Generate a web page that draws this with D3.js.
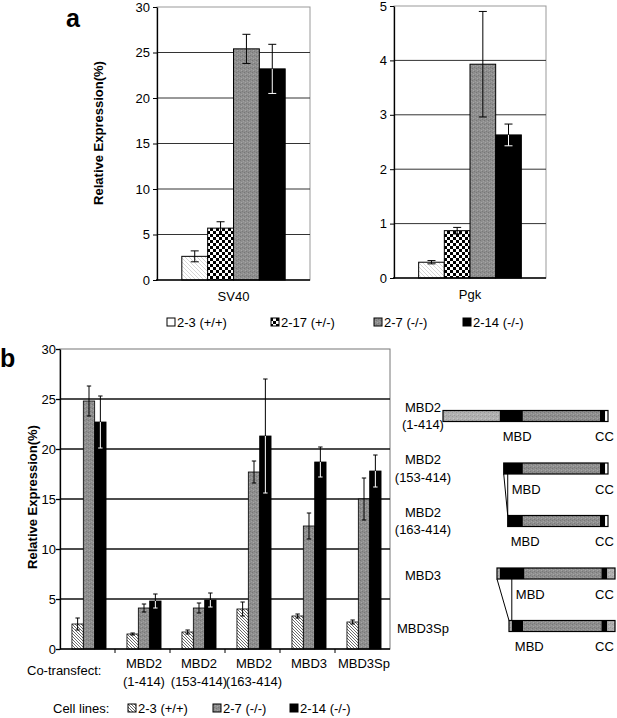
<!DOCTYPE html>
<html><head><meta charset="utf-8">
<script src="https://cdn.jsdelivr.net/npm/d3@7"></script>
<style>body{margin:0;background:#fff} text{font-family:"Liberation Sans",Arial,Helvetica,sans-serif;fill:#000}</style>
</head><body><svg id="c" width="617" height="718"></svg>
<script>
// ---------- DATA ----------
const cellLinesA = ["2-3 (+/+)", "2-17 (+/-)", "2-7 (-/-)", "2-14 (-/-)"];
const sv40Values = [2.6, 5.7, 25.4, 23.2];
const sv40Errors = [0.6, 0.7, 1.6, 2.7];
const pgkValues  = [0.29, 0.87, 3.93, 2.63];
const pgkErrors  = [0.03, 0.06, 0.97, 0.20];
const ticksSV40  = [0, 5, 10, 15, 20, 25, 30];
const ticksPgk   = [0, 1, 2, 3, 4, 5];

const coTransfect = ["", "MBD2|(1-414)", "MBD2|(153-414)", "MBD2|(163-414)", "MBD3", "MBD3Sp"];
const cellLinesB = ["2-3 (+/+)", "2-7 (-/-)", "2-14 (-/-)"];
const val23  = [2.5, 1.5, 1.7, 4.0, 3.3, 2.7];
const err23  = [0.6, 0.1, 0.2, 0.7, 0.2, 0.2];
const val27  = [24.8, 4.1, 4.1, 17.7, 12.3, 15.0];
const err27  = [1.5, 0.4, 0.5, 1.1, 1.3, 2.1];
const val214 = [22.7, 4.8, 4.9, 21.3, 18.7, 17.8];
const err214 = [2.6, 0.7, 0.7, 5.7, 1.5, 1.6];
const ticksB = [0, 5, 10, 15, 20, 25, 30];

const constructNames = ["MBD2|(1-414)", "MBD2|(153-414)", "MBD2|(163-414)", "MBD3", "MBD3Sp"];
const constructProtein = ["MBD2", "MBD2", "MBD2", "MBD3", "MBD3"];
const constructSegments = [
  [[1,143,"N"],[143,201,"MBD"],[201,394,"mid"],[394,407,"CC"],[407,414,"C"]],
  [[153,201,"MBD"],[201,394,"mid"],[394,407,"CC"],[407,414,"C"]],
  [[163,201,"MBD"],[201,394,"mid"],[394,407,"CC"],[407,414,"C"]],
  [[1,8,"N"],[8,70,"MBD"],[70,262,"mid"],[262,277,"CC"],[277,296,"C3"]],
  [[31,38,"N"],[38,66,"MBD"],[66,262,"mid"],[262,277,"CC"],[277,296,"C3"]]
];
const proteinLength = {MBD2: 414, MBD3: 296};

// ---------- SETUP ----------
const svg = d3.select("#c");
const defs = svg.append("defs");
function pat(id, w, h, build) {
  const p = defs.append("pattern").attr("id", id).attr("patternUnits", "userSpaceOnUse")
    .attr("width", w).attr("height", h);
  build(p);
}
pat("hatchLight", 4, 4, p => {
  p.append("rect").attr("width", 4).attr("height", 4).attr("fill", "#fff");
  p.append("path").attr("d", "M0,0L4,4M-1,3L1,5M3,-1L5,1").attr("stroke", "#c4c4c4").attr("stroke-width", 0.7);
});
pat("hatchDark", 3, 3, p => {
  p.append("rect").attr("width", 3).attr("height", 3).attr("fill", "#fff");
  p.append("path").attr("d", "M0,0L3,3M-1,2L1,4M2,-1L4,1").attr("stroke", "#444").attr("stroke-width", 0.8);
});
pat("checker", 6, 6, p => {
  p.append("rect").attr("width", 6).attr("height", 6).attr("fill", "#fff");
  p.append("rect").attr("width", 3).attr("height", 3).attr("fill", "#000");
  p.append("rect").attr("x", 3).attr("y", 3).attr("width", 3).attr("height", 3).attr("fill", "#000");
});
pat("grain", 4, 4, p => {
  p.append("rect").attr("width", 4).attr("height", 4).attr("fill", "#8e8e8e");
  [[0,0,"#777"],[2,3,"#7a7a7a"],[1,2,"#a6a6a6"],[3,1,"#a0a0a0"]].forEach(d =>
    p.append("rect").attr("x", d[0]).attr("y", d[1]).attr("width", 1).attr("height", 1).attr("fill", d[2]));
});
pat("grainLight", 4, 4, p => {
  p.append("rect").attr("width", 4).attr("height", 4).attr("fill", "#b0b0b0");
  [[0,0,"#999"],[2,3,"#9c9c9c"],[1,2,"#c6c6c6"]].forEach(d =>
    p.append("rect").attr("x", d[0]).attr("y", d[1]).attr("width", 1).attr("height", 1).attr("fill", d[2]));
});

const fillsA = ["url(#hatchLight)", "url(#checker)", "url(#grain)", "#000"];
const fillsB = ["url(#hatchDark)", "url(#grain)", "#000"];
const FONT = 13;

function errorBar(g, cx, vTop, vBot, barTop, cap, dark) {
  const inside = dark ? "#fff" : "#000";
  g.append("line").attr("x1", cx).attr("x2", cx).attr("y1", vTop).attr("y2", barTop).attr("stroke", "#000").attr("stroke-width", 1);
  g.append("line").attr("x1", cx).attr("x2", cx).attr("y1", barTop).attr("y2", vBot).attr("stroke", inside).attr("stroke-width", 1);
  g.append("line").attr("x1", cx - cap).attr("x2", cx + cap).attr("y1", vTop).attr("y2", vTop).attr("stroke", "#000").attr("stroke-width", 1);
  g.append("line").attr("x1", cx - cap).attr("x2", cx + cap).attr("y1", vBot).attr("y2", vBot).attr("stroke", inside).attr("stroke-width", 1);
}

// ---------- PANEL A ----------
function drawA(cat, values, errors, ticks, box) {
  const max = d3.max(ticks);
  const y = d3.scaleLinear().domain([0, max]).range([box.bottom, box.top]);
  const x0 = d3.scaleBand().domain([cat]).range([box.left, box.right]).paddingOuter(0.24);
  const x1 = d3.scaleBand().domain(cellLinesA).range([0, x0.bandwidth()]);
  const g = svg.append("g");
  g.append("rect").attr("x", box.left).attr("y", box.top).attr("width", box.right - box.left)
    .attr("height", box.bottom - box.top).attr("fill", "#fff").attr("stroke", "#999").attr("stroke-width", 1);
  g.selectAll("line.grid").data(ticks.filter(t => t > 0 && t < max)).join("line")
    .attr("x1", box.left).attr("x2", box.right).attr("y1", d => y(d)).attr("y2", d => y(d))
    .attr("stroke", "#333").attr("stroke-width", 1);
  const data = cellLinesA.map((s, i) => ({s, i, v: values[i], e: errors[i]}));
  g.selectAll("rect.bar").data(data).join("rect")
    .attr("x", d => x0(cat) + x1(d.s)).attr("width", x1.bandwidth())
    .attr("y", d => y(d.v)).attr("height", d => y(0) - y(d.v))
    .attr("fill", d => fillsA[d.i]).attr("stroke", "#000").attr("stroke-width", 1);
  data.forEach(d => errorBar(g, x0(cat) + x1(d.s) + x1.bandwidth() / 2,
    y(d.v + d.e), y(d.v - d.e), y(d.v), 4, d.i === 3));
  const ax = g.append("g").attr("transform", `translate(${box.left},0)`)
    .call(d3.axisLeft(y).tickValues(ticks).tickFormat(d3.format("d")).tickSize(4).tickSizeOuter(0).tickPadding(3));
  ax.selectAll("text").style("font-size", FONT + "px").style("font-family", "Liberation Sans, Arial, sans-serif");
  ax.select(".domain").attr("stroke", "#000").attr("stroke-width", 1.3);
  g.append("line").attr("x1", box.left - 1).attr("x2", box.right).attr("y1", y(0)).attr("y2", y(0))
    .attr("stroke", "#000").attr("stroke-width", 1.3);
  g.append("text").attr("x", x0(cat) + x0.bandwidth() / 2).attr("y", box.bottom + 21)
    .attr("text-anchor", "middle").style("font-size", FONT + "px").text(cat);
}
drawA("SV40", sv40Values, sv40Errors, ticksSV40, {left: 157, right: 310, top: 7, bottom: 280});
drawA("Pgk", pgkValues, pgkErrors, ticksPgk, {left: 394, right: 546, top: 6, bottom: 278});

svg.append("text").attr("transform", "translate(103,133) rotate(-90)").attr("text-anchor", "middle")
  .style("font-size", "13px").style("font-weight", "bold").text("Relative Expression(%)");
svg.append("text").attr("x", 66).attr("y", 27).style("font-size", "25px").style("font-weight", "bold").text("a");

// legend A
const legA = svg.append("g");
const legAoffsets = [0, 104, 207, 296];
cellLinesA.forEach((s, i) => {
  const x = 167 + legAoffsets[i];
  legA.append("rect").attr("x", x).attr("y", 318).attr("width", 8).attr("height", 8)
    .attr("fill", i === 0 ? "#fff" : fillsA[i]).attr("stroke", "#000").attr("stroke-width", 1);
  legA.append("text").attr("x", x + 10).attr("y", 327).style("font-size", FONT + "px").text(s);
});

// ---------- PANEL B ----------
(function drawB() {
  const box = {left: 60, right: 390, top: 349, bottom: 649};
  const max = d3.max(ticksB);
  const y = d3.scaleLinear().domain([0, max]).range([box.bottom, box.top]);
  const x0 = d3.scaleBand().domain(coTransfect).range([box.left + 1.5, box.right + 1.5]).paddingInner(0.38).paddingOuter(0.19);
  const x1 = d3.scaleBand().domain(cellLinesB).range([0, x0.bandwidth()]);
  const step = x0.step();
  const g = svg.append("g");
  g.append("rect").attr("x", box.left).attr("y", box.top).attr("width", box.right - box.left)
    .attr("height", box.bottom - box.top).attr("fill", "#fff").attr("stroke", "#777").attr("stroke-width", 1);
  g.selectAll("line.grid").data(ticksB.filter(t => t > 0 && t < max)).join("line")
    .attr("x1", box.left).attr("x2", box.right).attr("y1", d => y(d)).attr("y2", d => y(d))
    .attr("stroke", "#111").attr("stroke-width", 1.4);
  const series = [[val23, err23], [val27, err27], [val214, err214]];
  const data = [];
  coTransfect.forEach((c, ci) => cellLinesB.forEach((s, si) =>
    data.push({c, s, si, v: series[si][0][ci], e: series[si][1][ci]})));
  g.selectAll("rect.bar").data(data).join("rect")
    .attr("x", d => x0(d.c) + x1(d.s)).attr("width", x1.bandwidth())
    .attr("y", d => y(d.v)).attr("height", d => y(0) - y(d.v))
    .attr("fill", d => fillsB[d.si]).attr("stroke", "#000").attr("stroke-width", 0.8);
  data.forEach(d => errorBar(g, x0(d.c) + x1(d.s) + x1.bandwidth() / 2,
    y(d.v + d.e), y(d.v - d.e), y(d.v), 2.2, d.si === 2));
  const ax = g.append("g").attr("transform", `translate(${box.left},0)`)
    .call(d3.axisLeft(y).tickValues(ticksB).tickFormat(d3.format("d")).tickSize(4).tickSizeOuter(0).tickPadding(0));
  ax.selectAll("text").style("font-size", FONT + "px").style("font-family", "Liberation Sans, Arial, sans-serif");
  ax.selectAll(".tick line").attr("stroke-width", 1.3);
  ax.select(".domain").attr("stroke", "#000").attr("stroke-width", 1.3);
  g.append("line").attr("x1", box.left).attr("x2", box.right).attr("y1", y(0)).attr("y2", y(0))
    .attr("stroke", "#000").attr("stroke-width", 1.3);
  g.selectAll("line.xt").data(coTransfect.slice(1)).join("line")
    .attr("x1", d => x0(d) - step * 0.19 - 1.5).attr("x2", d => x0(d) - step * 0.19 - 1.5)
    .attr("y1", y(0)).attr("y2", y(0) + 4).attr("stroke", "#000").attr("stroke-width", 1);
  coTransfect.forEach(c => {
    const lines = c.split("|");
    lines.forEach((l, li) => g.append("text").attr("x", x0(c) + x0.bandwidth() / 2).attr("y", 668 + li * 17.5)
      .attr("text-anchor", "middle").style("font-size", FONT + "px").text(l));
  });
  g.append("text").attr("x", 27).attr("y", 675).style("font-size", FONT + "px").text("Co-transfect:");
})();

svg.append("text").attr("transform", "translate(37,497) rotate(-90)").attr("text-anchor", "middle")
  .style("font-size", "13px").style("font-weight", "bold").text("Relative Expression(%)");
svg.append("text").attr("x", 0).attr("y", 367).style("font-size", "25px").style("font-weight", "bold").text("b");

// legend B
const legB = svg.append("g");
legB.append("text").attr("x", 53).attr("y", 712.5).style("font-size", FONT + "px").text("Cell lines:");
const legBoffsets = [128, 213, 290];
cellLinesB.forEach((s, i) => {
  const x = legBoffsets[i];
  legB.append("rect").attr("x", x).attr("y", 704).attr("width", 8).attr("height", 8)
    .attr("fill", fillsB[i]).attr("stroke", "#000").attr("stroke-width", 1);
  legB.append("text").attr("x", x + 10).attr("y", 713).style("font-size", FONT + "px").text(s);
});

// ---------- CONSTRUCT DIAGRAMS ----------
const aaX = {
  MBD2: d3.scaleLinear().domain([1, proteinLength.MBD2]).range([443, 608]),
  MBD3: d3.scaleLinear().domain([1, proteinLength.MBD3]).range([497, 615])
};
const rowY = d3.scalePoint().domain(constructNames).range([416, 626]);
const segFill = {N: "url(#grainLight)", MBD: "#000", mid: "url(#grain)", CC: "#000", C: "#fff", C3: "url(#grainLight)"};
const dg = svg.append("g");
const H = 11;
constructNames.forEach((name, ri) => {
  const sx = aaX[constructProtein[ri]];
  const cy = rowY(name);
  const segs = constructSegments[ri];
  dg.selectAll(null).data(segs).join("rect")
    .attr("x", d => sx(d[0])).attr("width", d => sx(d[1]) - sx(d[0]))
    .attr("y", cy - H / 2).attr("height", H).attr("fill", d => segFill[d[2]]);
  const start = segs[0][0], end = segs[segs.length - 1][1];
  dg.append("rect").attr("x", sx(start)).attr("y", cy - H / 2).attr("width", sx(end) - sx(start)).attr("height", H)
    .attr("fill", "none").attr("stroke", "#000").attr("stroke-width", 1.2);
  const lines = name.split("|");
  const off = lines.length === 2 ? -4.5 : 6.5;
  lines.forEach((l, li) => dg.append("text").attr("x", 423).attr("y", cy + off + li * 17.5)
    .attr("text-anchor", "middle").style("font-size", FONT + "px").text(l));
  const mbd = segs.find(d => d[2] === "MBD");
  let lx = sx(mbd[0]) + 3;
  const next = constructNames[ri + 1];
  if (next && constructProtein[ri + 1] === constructProtein[ri] && ri !== 0) {
    const nseg = constructSegments[ri + 1];
    const nx = sx(nseg[0][2] === "N" ? nseg[1][0] : nseg[0][0]);
    lx = nx + 4;
    const y1 = cy + H / 2, y2 = rowY(next) - H / 2;
    dg.append("line").attr("x1", sx(start)).attr("y1", y1).attr("x2", sx(nseg[0][0])).attr("y2", y2).attr("stroke", "#000").attr("stroke-width", 1);
    dg.append("line").attr("x1", nx).attr("y1", y1).attr("x2", nx).attr("y2", y2).attr("stroke", "#000").attr("stroke-width", 1);
  }
  dg.append("text").attr("x", lx).attr("y", cy + 25).style("font-size", FONT + "px").text("MBD");
  dg.append("text").attr("x", 595).attr("y", cy + 25).style("font-size", FONT + "px").text("CC");
});
</script></body></html>
